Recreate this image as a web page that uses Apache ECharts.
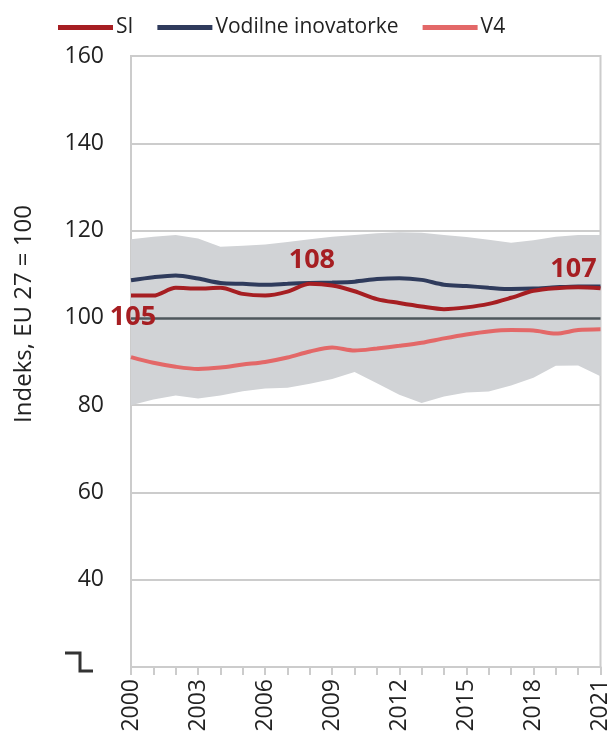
<!DOCTYPE html>
<html>
<head>
<meta charset="utf-8">
<script src="https://cdn.jsdelivr.net/npm/echarts@6/dist/echarts.min.js"></script>
<style>
  html, body { margin: 0; padding: 0; background: #fff; }
  #chart { width: 612px; height: 739px; }
</style>
</head>
<body>
<div id="chart"></div>
<script>
// leta
const years = ['2000', '2001', '2002', '2003', '2004', '2005', '2006', '2007', '2008', '2009', '2010',
  '2011', '2012', '2013', '2014', '2015', '2016', '2017', '2018', '2019', '2020', '2021'];

// indeks, EU 27 = 100
const siValues = [105.1, 105.1, 106.9, 106.7, 106.9, 105.5, 105.1, 106.0, 107.8, 107.4, 106.1,
  104.3, 103.4, 102.6, 102.0, 102.4, 103.2, 104.6, 106.2, 106.8, 107.0, 106.8];
const leaderValues = [108.6, 109.3, 109.7, 109.0, 108.0, 107.8, 107.6, 107.8, 108.0, 108.1, 108.3,
  108.9, 109.1, 108.7, 107.6, 107.3, 106.9, 106.6, 106.7, 107.0, 107.2, 107.2];
const v4Values = [91.0, 89.7, 88.8, 88.3, 88.6, 89.3, 89.9, 90.9, 92.3, 93.2, 92.5,
  93.0, 93.6, 94.3, 95.3, 96.2, 96.9, 97.2, 97.1, 96.4, 97.2, 97.4];

// razpon (siv pas)
const bandUpper = [118.0, 118.6, 119.0, 118.2, 116.3, 116.5, 116.8, 117.4, 118.0, 118.6, 119.0,
  119.4, 119.6, 119.5, 119.0, 118.5, 117.9, 117.2, 117.8, 118.6, 119.0, 119.0];
const bandLower = [80.0, 81.3, 82.2, 81.5, 82.2, 83.2, 83.8, 84.0, 84.9, 86.0, 87.6,
  85.0, 82.4, 80.5, 82.0, 82.9, 83.1, 84.5, 86.3, 89.0, 89.1, 86.6];

// oznake vrednosti SI (indeksi let)
const siLabelIdx = [0, 8, 21];

const FONT = '"Open Sans", "Noto Sans", sans-serif';
const RED = '#a61e22';
const NAVY = '#2f3b5c';
const PINK = '#e36868';

const chart = echarts.init(document.getElementById('chart'));

const labelPos = {
  0: { position: 'bottom', distance: 8, offset: [2, 0] },
  8: { position: 'top', distance: 10, offset: [2, 0] },
  21: { position: 'top', distance: 5, offset: [-27, 0] },
};

const siData = siValues.map((v, i) => {
  if (siLabelIdx.indexOf(i) < 0) return v;
  return {
    value: v,
    label: Object.assign({
      show: true,
      formatter: (p) => Math.round(p.value),
      color: RED,
      fontFamily: FONT,
      fontWeight: 'bold',
      fontSize: 27,
    }, labelPos[i]),
  };
});

chart.setOption({
  animation: false,
  backgroundColor: '#fff',
  textStyle: { fontFamily: FONT },
  legend: {
    data: ['SI', 'Vodilne inovatorke', 'V4'],
    left: 53,
    top: 12,
    icon: 'rect',
    itemWidth: 55,
    itemHeight: 5,
    itemGap: 24,
    textStyle: { fontFamily: FONT, fontSize: 21, color: '#222', padding: [0, 0, 0, -2] },
  },
  grid: {
    left: 131,
    right: 8.5,
    top: 56,
    bottom: 72,
    show: true,
    borderColor: '#cccccc',
    borderWidth: 2,
  },
  xAxis: {
    type: 'category',
    data: years,
    boundaryGap: false,
    axisLine: { lineStyle: { color: '#cccccc', width: 2 } },
    axisTick: { show: true, interval: 0, length: 8, lineStyle: { color: '#cccccc', width: 2 } },
    axisLabel: {
      rotate: 90,
      interval: 2,
      margin: 12,
      color: '#222',
      fontFamily: FONT,
      fontSize: 23,
    },
    splitLine: { show: false },
  },
  yAxis: {
    type: 'value',
    min: 20,
    max: 160,
    interval: 20,
    axisLine: { show: true, lineStyle: { color: '#cccccc', width: 2 } },
    axisTick: { show: false },
    axisLabel: {
      margin: 27,
      color: '#222',
      fontFamily: FONT,
      fontSize: 23,
      formatter: (v) => (v === 20 ? '' : String(v)),
    },
    splitLine: { show: true, lineStyle: { color: '#cccccc', width: 2 } },
  },
  graphic: [
    {
      type: 'text',
      left: 12,
      top: 205,
      rotation: Math.PI / 2,
      style: {
        text: 'Indeks, EU 27 = 100',
        fill: '#222',
        font: '24px ' + FONT,
      },
    },
    {
      type: 'polyline',
      shape: { points: [[65, 653], [80, 653], [80, 671], [93, 671]] },
      style: { stroke: '#333', lineWidth: 3, fill: null },
    },
  ],
  series: [
    {
      name: 'bandLow',
      type: 'line',
      stack: 'band',
      data: bandLower,
      symbol: 'none',
      lineStyle: { opacity: 0 },
      areaStyle: { opacity: 0 },
      silent: true,
      z: 1,
    },
    {
      name: 'band',
      type: 'line',
      stack: 'band',
      data: bandUpper.map((v, i) => +(v - bandLower[i]).toFixed(2)),
      symbol: 'none',
      lineStyle: { opacity: 0 },
      areaStyle: { color: '#d1d3d6', opacity: 1 },
      silent: true,
      z: 1,
      markLine: {
        silent: true,
        symbol: 'none',
        label: { show: false },
        lineStyle: { color: '#4e575c', width: 2.5, type: 'solid' },
        data: [{ yAxis: 100 }],
      },
    },
    {
      name: 'V4',
      type: 'line',
      data: v4Values,
      symbol: 'none',
      smooth: 0.3,
      lineStyle: { color: PINK, width: 4 },
      itemStyle: { color: PINK },
      z: 3,
    },
    {
      name: 'Vodilne inovatorke',
      type: 'line',
      data: leaderValues,
      symbol: 'none',
      smooth: 0.3,
      lineStyle: { color: NAVY, width: 4 },
      itemStyle: { color: NAVY },
      z: 4,
    },
    {
      name: 'SI',
      type: 'line',
      data: siData,
      symbol: 'circle',
      symbolSize: 0,
      showSymbol: true,
      smooth: 0.3,
      lineStyle: { color: RED, width: 4 },
      itemStyle: { color: RED },
      z: 5,
    },
  ],
});
</script>
</body>
</html>
